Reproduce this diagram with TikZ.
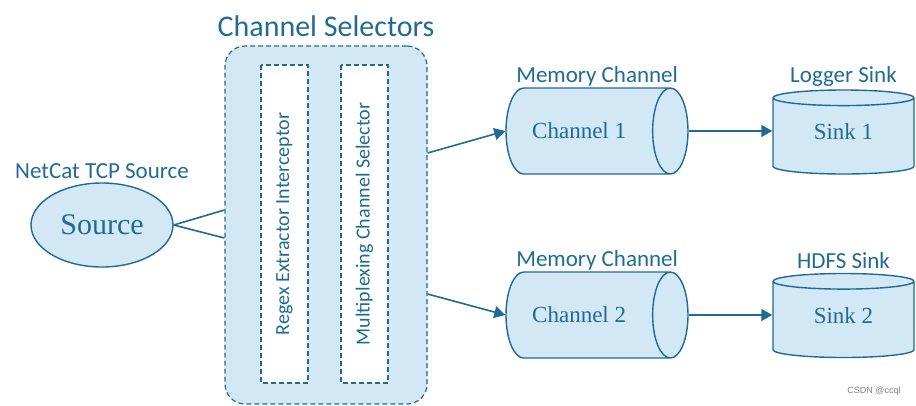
\documentclass[tikz,border=0pt]{standalone}
\usepackage{fontspec}
\setmainfont{Liberation Serif}
\newfontfamily\labelfont{Carlito}
\newfontfamily\markfont{Liberation Sans}
\usetikzlibrary{shapes.geometric, arrows.meta, positioning}
\definecolor{flumeblue}{HTML}{1F6B96}
\definecolor{flumefill}{HTML}{D2E8F5}
\tikzstyle{selbox} = [rectangle, rounded corners=20pt, draw=flumeblue, fill=flumefill, line width=1.2pt, dash pattern=on 5pt off 3pt, minimum width=202pt, minimum height=358pt]
\tikzstyle{stage} = [rectangle, rotate=90, draw=flumeblue, fill=white, line width=1.2pt, dash pattern=on 5pt off 3pt, minimum width=318pt, minimum height=47pt, text=flumeblue, font=\labelfont\fontsize{20}{22}\selectfont]
\tikzstyle{source} = [ellipse, draw=flumeblue, fill=flumefill, line width=1.4pt, minimum width=142pt, minimum height=84pt, text=flumeblue, font=\fontsize{30}{32}\selectfont]
\tikzstyle{channel} = [cylinder, draw=flumeblue, cylinder uses custom fill, cylinder body fill=flumefill, cylinder end fill=flumefill, line width=1.4pt, inner ysep=34pt, shape aspect=0.42, minimum width=86pt, minimum height=182pt, text=flumeblue, font=\fontsize{23}{25}\selectfont, anchor=shape center]
\tikzstyle{sink} = [cylinder, shape border rotate=90, draw=flumeblue, cylinder uses custom fill, cylinder body fill=flumefill, cylinder end fill=flumefill, line width=1.4pt, inner xsep=38pt, text depth=16pt, shape aspect=0.115, minimum width=141pt, minimum height=84pt, text=flumeblue, font=\fontsize{23}{25}\selectfont, anchor=shape center]
\tikzstyle{caption} = [inner sep=0pt, text=flumeblue, font=\labelfont\fontsize{23}{25}\selectfont]
\tikzstyle{link} = [draw=flumeblue, line width=1.6pt]
\tikzstyle{arrow} = [link, -{Triangle[length=11pt,width=12pt]}]

\begin{document}
\begin{tikzpicture}[x=1pt, y=-1pt]
        \useasboundingbox (0,0) rectangle (916,405);

        \node (selectors) [selbox] at (326,225) {};
        \node (regex) [stage] at (284.5,224) {Regex Extractor Interceptor};
        \node (multiplex) [stage] at (364.5,224) {Multiplexing Channel Selector};
        \node (selectorslabel) [caption, font=\labelfont\fontsize{30}{32}\selectfont, above=8pt of selectors] {Channel Selectors};

        \node (source) [source] at (102,225) {Source};
        \node (sourcelabel) [caption, above=3pt of source] {NetCat TCP Source};

        \node (channel1) [channel] at (597,131) {Channel 1};
        \node (channel2) [channel] at (597,315) {Channel 2};
        \node (channel1label) [caption, above=1pt of channel1, xshift=18pt] {Memory Channel};
        \node (channel2label) [caption, above=1pt of channel2, xshift=18pt] {Memory Channel};

        \node (sink1) [sink] at (843.5,132) {Sink 1};
        \node (sink2) [sink] at (843.5,315.5) {Sink 2};
        \node (sink1label) [caption, above=3pt of sink1] {Logger Sink};
        \node (sink2label) [caption, above=4pt of sink2] {HDFS Sink};

        \draw [link] (source.east) -- ([yshift=15pt]selectors.west);
        \draw [link] (source.east) -- ([yshift=-13pt]selectors.west);
        \draw [arrow] ([yshift=72pt]selectors.east) -- (channel1.west);
        \draw [arrow] ([yshift=-69pt]selectors.east) -- (channel2.west);
        \draw [arrow] (channel1.east) -- (channel1.east -| sink1.west);
        \draw [arrow] (channel2.east) -- (channel2.east -| sink2.west);

        \node (watermark) [text=gray, font=\markfont\fontsize{9}{10}\selectfont] at (874,391) {CSDN @ccql};
    \end{tikzpicture}
\end{document}
